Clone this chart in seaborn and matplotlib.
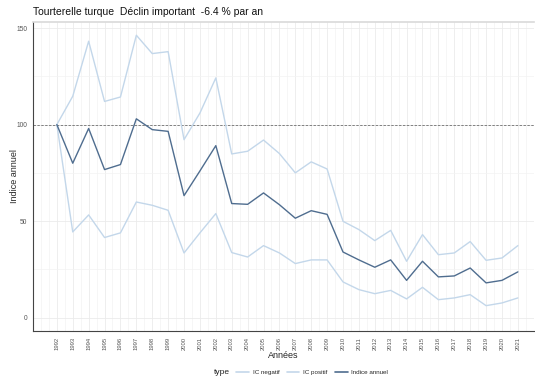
import numpy as np
import pandas as pd
import matplotlib
matplotlib.use("Agg")
import matplotlib.pyplot as plt
from matplotlib.ticker import MultipleLocator
from matplotlib.lines import Line2D
import seaborn as sns

years = list(range(1992, 2022))

indice_annuel = [100, 80, 98, 76.7, 79.3, 103, 97.4, 96.5, 63.2, 76, 89.1,
                 59.1, 58.7, 64.6, 58.5, 51.5, 55.4, 53.5, 34, 29.9, 26.1,
                 29.9, 19.3, 29.2, 21.1, 21.6, 25.7, 18, 19.3, 23.7]

ic_positif = [100, 114.7, 143.2, 112, 114.3, 146.3, 136.8, 137.8, 92.2, 106, 124.2,
              84.8, 86.2, 92, 85, 75, 80.7, 77, 49.9, 45.6, 39.9,
              45.2, 29.2, 43, 32.6, 33.5, 39.4, 29.7, 30.9, 37.3]

ic_negatif = [100, 44.4, 53.2, 41.5, 43.9, 59.9, 58.2, 55.6, 33.5, 43.9, 53.9,
              33.7, 31.4, 37.3, 33.5, 28, 29.9, 29.9, 18.5, 14.5, 12.4,
              14.1, 9.7, 15.7, 9.3, 10.2, 11.9, 6.2, 7.6, 10.2]

series_names = ["IC negatif", "IC positif", "Indice annuel"]
palette = {"IC negatif": "#c3d7ea", "IC positif": "#c3d7ea", "Indice annuel": "#4f6d8f"}

df = pd.concat([
    pd.DataFrame({"annee": years, "valeur": ic_negatif, "type": "IC negatif"}),
    pd.DataFrame({"annee": years, "valeur": ic_positif, "type": "IC positif"}),
    pd.DataFrame({"annee": years, "valeur": indice_annuel, "type": "Indice annuel"}),
])

sns.set_theme(style="white")
plt.rcParams["font.family"] = ["Liberation Sans", "DejaVu Sans"]

fig = plt.figure(figsize=(5.35, 3.78), dpi=100)
ax = fig.add_axes([0.0617, 0.124, 0.936, 0.818])

ax.axhline(100, color="#808080", lw=0.7, ls=(0, (2.5, 1.5)), zorder=1)

sns.lineplot(data=df, x="annee", y="valeur", hue="type", palette=palette,
             hue_order=series_names, linewidth=1.0, legend=False, ax=ax,
             sort=False, zorder=3)

ax.set_xlim(1990.5, 2022.0)
ax.set_ylim(-7, 153.2)

ax.set_xticks(years)
ax.set_xticklabels([str(y) for y in years], rotation=90, fontsize=4.2, color="#555555")
ax.xaxis.set_minor_locator(MultipleLocator(0.5))
ax.set_yticks([0, 50, 100, 150])
ax.set_yticklabels(["0", "50", "100", "150"], fontsize=4.8, color="#555555")
ax.yaxis.set_minor_locator(MultipleLocator(25))

ax.grid(which="major", color="#ebebeb", lw=0.6, zorder=0)
ax.grid(which="minor", color="#f3f3f3", lw=0.5, zorder=0)
ax.set_axisbelow(True)

ax.tick_params(axis="both", which="major", length=2, width=0.5, color="#555555", pad=2)
ax.tick_params(axis="both", which="minor", length=0)

ax.spines["right"].set_visible(False)
ax.spines["top"].set_color("#d9d9d9")
ax.spines["top"].set_linewidth(1.2)
for side in ["left", "bottom"]:
    ax.spines[side].set_color("#444444")
    ax.spines[side].set_linewidth(0.8)

ax.set_xlabel("Années", fontsize=6.5, va="center")
ax.set_ylabel("Indice annuel", fontsize=6.5, va="center")
ax.xaxis.set_label_coords(0.5, -0.078)
ax.yaxis.set_label_coords(-0.036, 0.5)

fig.text(0.0617, 0.967, "Tourterelle turque  Déclin important  -6.4 % par an",
         fontsize=7.5, ha="left", va="center", color="#111111")

handles = [Line2D([], [], color=palette[n], lw=1.2) for n in series_names]
fig.text(0.400, 0.015, "type", fontsize=6, ha="left", va="center", color="#222222")
fig.legend(handles, series_names, loc="center left", bbox_to_anchor=(0.442, 0.015),
           ncol=3, frameon=False, fontsize=4.5, handlelength=2.0,
           handletextpad=0.6, columnspacing=1.2, borderpad=0, borderaxespad=0)

fig.savefig("out.png", dpi=100)
